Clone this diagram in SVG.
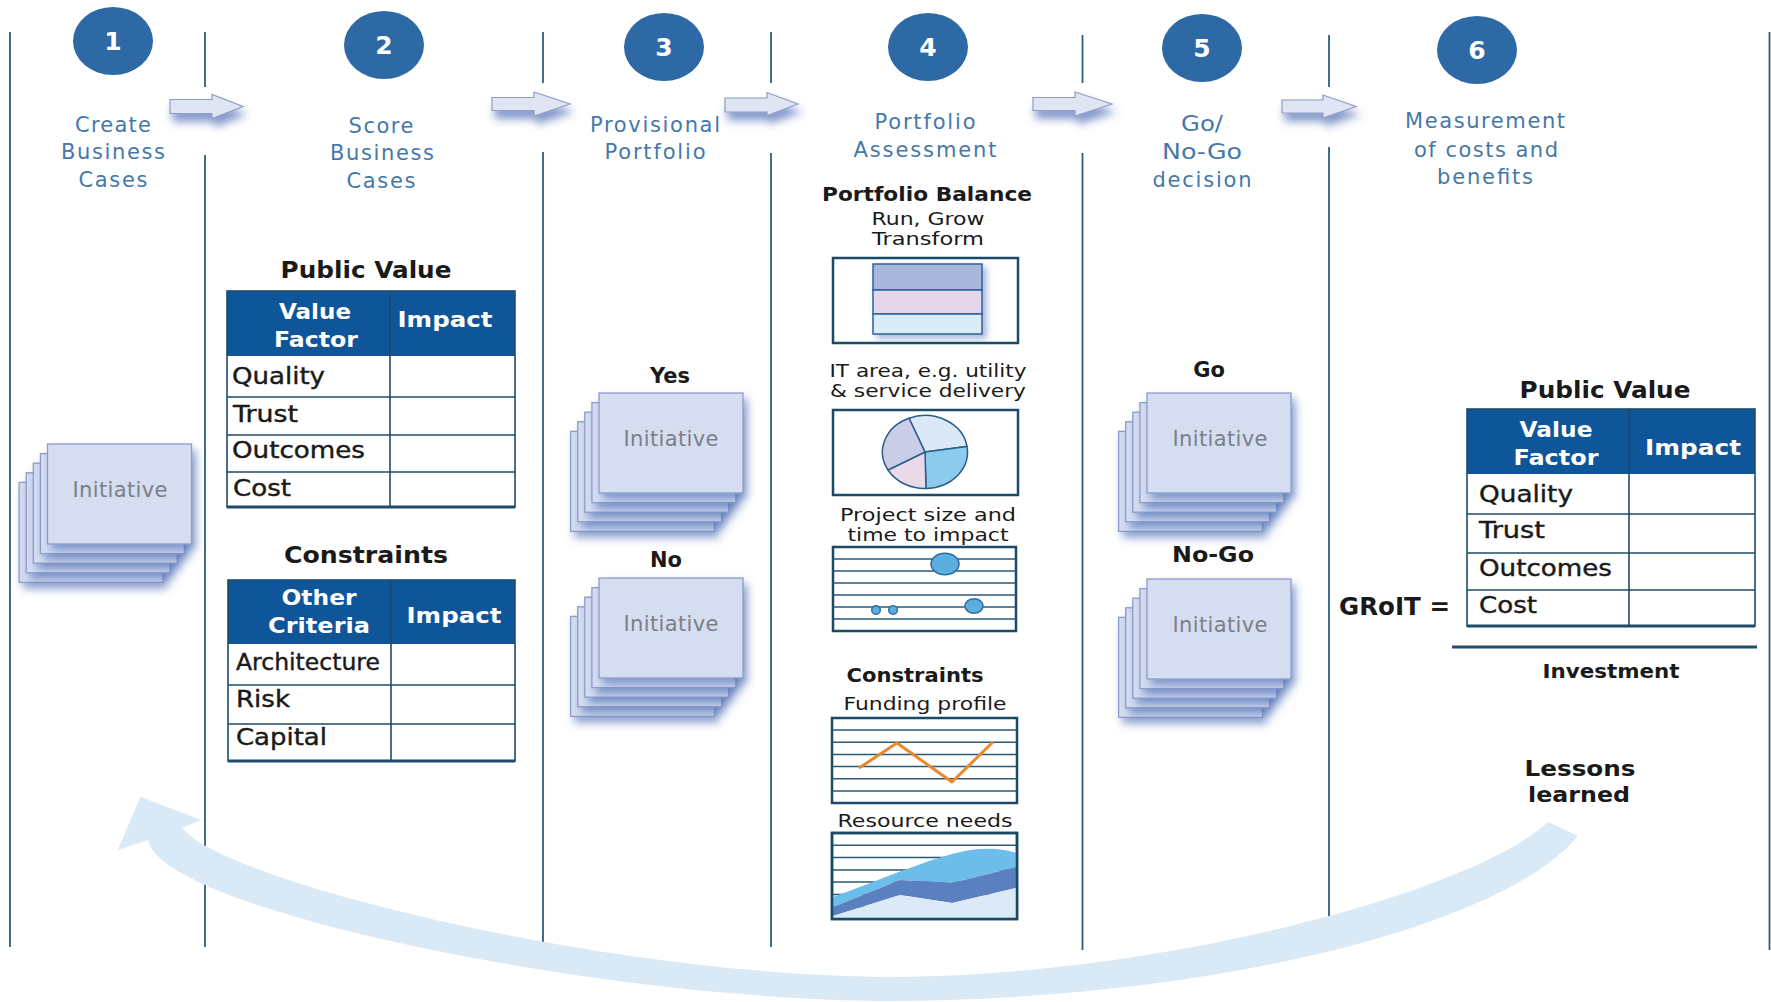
<svg xmlns="http://www.w3.org/2000/svg" width="1771" height="1002" viewBox="0 0 1771 1002">
<defs>
<style>
text{font-family:"DejaVu Sans","Liberation Sans",sans-serif}
.lbl{font-size:21px;fill:#4578a8;text-anchor:middle}
.num{font-size:25px;font-weight:bold;fill:#fff;text-anchor:middle}
.ttl{font-size:23px;font-weight:bold;fill:#1a1a1a;text-anchor:middle}
.hdr{font-size:21.5px;font-weight:bold;fill:#fff;text-anchor:middle}
.row{font-size:22.5px;fill:#1a1a1a;stroke:#1a1a1a;stroke-width:0.4}
.ini{font-size:21px;fill:#7b7f88;text-anchor:middle}
.bld{font-size:21px;font-weight:bold;fill:#1a1a1a;text-anchor:middle}
.sub{font-size:18px;fill:#1a1a1a;text-anchor:middle}
.vline{stroke:#2f5d7c;stroke-width:1.8;fill:none}
.circ{fill:#2c69a5}
.card{fill:#d5ddf0;stroke:#8d9ccb;stroke-width:1.3;filter:url(#cardShadow)}
.thead{fill:#0f5599}
.tbody{fill:#fff}
.tline{stroke:#1d4b69;stroke-width:1.6;fill:none}
.tbot{stroke:#1d4b69;stroke-width:3;fill:none}
.box{fill:#fff;stroke:#1b4a66;stroke-width:2.5}
.grid{stroke:#2a5a78;stroke-width:1.5;fill:none}
.arrow{fill:#dfe5f2;stroke:#8e9cc6;stroke-width:1.2;filter:url(#arrowShadow)}
.pie{stroke:#2a5f8a;stroke-width:1.5}
.dot{fill:#5aaee0;stroke:#2d6fa0;stroke-width:1.5}
</style>
<filter id="cardShadow" x="-20%" y="-20%" width="150%" height="160%">
<feDropShadow dx="4" dy="6" stdDeviation="4" flood-color="#3b5fae" flood-opacity="0.55"/>
</filter>
<filter id="arrowShadow" x="-30%" y="-50%" width="170%" height="250%">
<feDropShadow dx="3" dy="8" stdDeviation="4" flood-color="#3355aa" flood-opacity="0.6"/>
</filter>
<filter id="barShadow" x="-20%" y="-20%" width="150%" height="150%">
<feDropShadow dx="4" dy="4" stdDeviation="3" flood-color="#4a6fb0" flood-opacity="0.5"/>
</filter>
</defs>
<rect x="0" y="0" width="1771" height="1002" fill="#fff"/>

<g id="columns">
<line class="vline" x1="10" y1="32" x2="10" y2="947"/>
<line class="vline" x1="205" y1="32" x2="205" y2="87"/>
<line class="vline" x1="205" y1="155" x2="205" y2="947"/>
<line class="vline" x1="543" y1="32" x2="543" y2="83"/>
<line class="vline" x1="543" y1="152" x2="543" y2="944"/>
<line class="vline" x1="771" y1="32" x2="771" y2="83"/>
<line class="vline" x1="771" y1="153" x2="771" y2="947"/>
<line class="vline" x1="1082.5" y1="35" x2="1082.5" y2="83"/>
<line class="vline" x1="1082.5" y1="153" x2="1082.5" y2="950"/>
<line class="vline" x1="1329" y1="35" x2="1329" y2="87"/>
<line class="vline" x1="1329" y1="147" x2="1329" y2="950"/>
<line class="vline" x1="1769.5" y1="32" x2="1769.5" y2="950"/>
</g>

<g id="connectors">
<path class="arrow" d="M170,99.5 H212 V94.5 L243,106.5 L212,118.5 V113.5 H170 Z"/>
<path class="arrow" d="M492,97.5 H534 V92 L570,104 L534,116 V110.5 H492 Z"/>
<path class="arrow" d="M725,98 H767 V92.5 L798,104 L767,115.5 V112 H725 Z"/>
<path class="arrow" d="M1033,97.5 H1075 V92 L1112,104 L1075,116 V110.5 H1033 Z"/>
<path class="arrow" d="M1282,100 H1323 V95 L1356,106.5 L1323,118 V113 H1282 Z"/>
<path id="lessons-arrow" fill="#d9e9f6" d="M1578,836 C1500,930 1200,1000 890,1001 C600,1000 160,910 148,840 L117.7,850 L140.6,796.7 L201,820 L182.5,828 C220,880 600,975 890,977 C1150,977 1470,895 1548,822 Z"/>
</g>

<g id="step1">
<ellipse class="circ" cx="113" cy="41" rx="40" ry="34"/>
<text class="num" x="113" y="50">1</text>
<text class="lbl" x="113" y="132" textLength="76">Create</text>
<text class="lbl" x="113" y="159" textLength="104">Business</text>
<text class="lbl" x="113" y="187" textLength="69">Cases</text>
</g>
<g id="step2">
<ellipse class="circ" cx="384" cy="45" rx="40" ry="34"/>
<text class="num" x="384" y="54">2</text>
<text class="lbl" x="381" y="133" textLength="65">Score</text>
<text class="lbl" x="382" y="160" textLength="104">Business</text>
<text class="lbl" x="381" y="188" textLength="69">Cases</text>
</g>
<g id="step3">
<ellipse class="circ" cx="664" cy="47" rx="40" ry="34"/>
<text class="num" x="664" y="56">3</text>
<text class="lbl" x="655" y="132" textLength="130">Provisional</text>
<text class="lbl" x="655" y="159" textLength="101">Portfolio</text>
</g>
<g id="step4">
<ellipse class="circ" cx="928" cy="47" rx="40" ry="34"/>
<text class="num" x="928" y="56">4</text>
<text class="lbl" x="925" y="129" textLength="101">Portfolio</text>
<text class="lbl" x="925" y="157" textLength="143">Assessment</text>
</g>
<g id="step5">
<ellipse class="circ" cx="1202" cy="48" rx="40" ry="34"/>
<text class="num" x="1202" y="57">5</text>
<text class="lbl" x="1202" y="131" textLength="42" lengthAdjust="spacingAndGlyphs">Go/</text>
<text class="lbl" x="1202" y="159" textLength="80" lengthAdjust="spacingAndGlyphs">No-Go</text>
<text class="lbl" x="1202" y="187" textLength="99">decision</text>
</g>
<g id="step6">
<ellipse class="circ" cx="1477" cy="50" rx="40" ry="34"/>
<text class="num" x="1477" y="59">6</text>
<text class="lbl" x="1485" y="128" textLength="160">Measurement</text>
<text class="lbl" x="1486" y="157" textLength="144">of costs and</text>
<text class="lbl" x="1485" y="184" textLength="96">benefits</text>
</g>

<g id="initiatives-create">
<rect class="card" x="19.1" y="482.4" width="144" height="100"/>
<rect class="card" x="26.2" y="472.8" width="144" height="100"/>
<rect class="card" x="33.3" y="463.2" width="144" height="100"/>
<rect class="card" x="40.4" y="453.6" width="144" height="100"/>
<rect class="card" x="47.5" y="444" width="144" height="100"/>
<text class="ini" x="120" y="497" textLength="95">Initiative</text>
</g>

<g id="public-value-score">
<text class="ttl" x="366" y="278" textLength="171" lengthAdjust="spacingAndGlyphs">Public Value</text>
<rect class="thead" x="227" y="291" width="288" height="65"/>
<rect class="tbody" x="227" y="356" width="288" height="151"/>
<line class="tline" x1="227" y1="397" x2="515" y2="397"/>
<line class="tline" x1="227" y1="435" x2="515" y2="435"/>
<line class="tline" x1="227" y1="472" x2="515" y2="472"/>
<line class="tline" x1="390" y1="291" x2="390" y2="507"/>
<rect class="tline" x="227" y="291" width="288" height="216"/>
<line class="tbot" x1="227" y1="507" x2="515" y2="507"/>
<text class="hdr" x="315" y="319" textLength="72" lengthAdjust="spacingAndGlyphs">Value</text>
<text class="hdr" x="316" y="347" textLength="84" lengthAdjust="spacingAndGlyphs">Factor</text>
<text class="hdr" x="445" y="327" textLength="95" lengthAdjust="spacingAndGlyphs">Impact</text>
<text class="row" x="232" y="384" textLength="93" lengthAdjust="spacingAndGlyphs">Quality</text>
<text class="row" x="233" y="422" textLength="65" lengthAdjust="spacingAndGlyphs">Trust</text>
<text class="row" x="232" y="458" textLength="133" lengthAdjust="spacingAndGlyphs">Outcomes</text>
<text class="row" x="233" y="496" textLength="58" lengthAdjust="spacingAndGlyphs">Cost</text>
</g>

<g id="constraints-score">
<text class="ttl" x="366" y="563" textLength="164" lengthAdjust="spacingAndGlyphs">Constraints</text>
<rect class="thead" x="228" y="580" width="287" height="64"/>
<rect class="tbody" x="228" y="644" width="287" height="117"/>
<line class="tline" x1="228" y1="685" x2="515" y2="685"/>
<line class="tline" x1="228" y1="724" x2="515" y2="724"/>
<line class="tline" x1="391" y1="580" x2="391" y2="761"/>
<rect class="tline" x="228" y="580" width="287" height="181"/>
<line class="tbot" x1="228" y1="761" x2="515" y2="761"/>
<text class="hdr" x="319" y="605" textLength="75" lengthAdjust="spacingAndGlyphs">Other</text>
<text class="hdr" x="319" y="633" textLength="102" lengthAdjust="spacingAndGlyphs">Criteria</text>
<text class="hdr" x="454" y="623" textLength="95" lengthAdjust="spacingAndGlyphs">Impact</text>
<text class="row" x="236" y="670" textLength="144" lengthAdjust="spacingAndGlyphs">Architecture</text>
<text class="row" x="236" y="707" textLength="54" lengthAdjust="spacingAndGlyphs">Risk</text>
<text class="row" x="236" y="745" textLength="91" lengthAdjust="spacingAndGlyphs">Capital</text>
</g>

<g id="initiatives-yes">
<text class="bld" x="670" y="383">Yes</text>
<rect class="card" x="570.6" y="431.4" width="144" height="100"/>
<rect class="card" x="577.7" y="421.8" width="144" height="100"/>
<rect class="card" x="584.8" y="412.2" width="144" height="100"/>
<rect class="card" x="591.9" y="402.6" width="144" height="100"/>
<rect class="card" x="599" y="393" width="144" height="100"/>
<text class="ini" x="671" y="446" textLength="95">Initiative</text>
</g>
<g id="initiatives-no">
<text class="bld" x="666" y="567">No</text>
<rect class="card" x="570.6" y="616.4" width="144" height="100"/>
<rect class="card" x="577.7" y="606.8" width="144" height="100"/>
<rect class="card" x="584.8" y="597.2" width="144" height="100"/>
<rect class="card" x="591.9" y="587.6" width="144" height="100"/>
<rect class="card" x="599" y="578" width="144" height="100"/>
<text class="ini" x="671" y="631" textLength="95">Initiative</text>
</g>

<g id="portfolio-balance">
<text class="bld" x="927" y="201" style="font-size:20px" textLength="210" lengthAdjust="spacingAndGlyphs">Portfolio Balance</text>
<text class="sub" x="928" y="225" textLength="113" lengthAdjust="spacingAndGlyphs">Run, Grow</text>
<text class="sub" x="928" y="245" textLength="112" lengthAdjust="spacingAndGlyphs">Transform</text>
<rect class="box" x="833" y="258" width="185" height="85"/>
<g filter="url(#barShadow)">
<rect x="873" y="264" width="109" height="26" fill="#a9b7dc" stroke="#2d62a0" stroke-width="1.5"/>
<rect x="873" y="290" width="109" height="24" fill="#e3d6e8" stroke="#2d62a0" stroke-width="1.5"/>
<rect x="873" y="314" width="109" height="20" fill="#dcebf8" stroke="#2d62a0" stroke-width="1.5"/>
</g>
</g>

<g id="it-area">
<text class="sub" x="928" y="377" textLength="197" lengthAdjust="spacingAndGlyphs">IT area, e.g. utility</text>
<text class="sub" x="928" y="397" textLength="196" lengthAdjust="spacingAndGlyphs">&amp; service delivery</text>
<rect class="box" x="833" y="410" width="185" height="85"/>
<path class="pie" fill="#dbe9f7" d="M925,452 L909,418.2 A42.5,36.5 0 0 1 967,446.4 Z"/>
<path class="pie" fill="#8ccbee" d="M925,452 L967,446.4 A42.5,36.5 0 0 1 926,488.5 Z"/>
<path class="pie" fill="#ead9e9" d="M925,452 L926,488.5 A42.5,36.5 0 0 1 888,470 Z"/>
<path class="pie" fill="#cacde8" d="M925,452 L888,470 A42.5,36.5 0 0 1 909,418.2 Z"/>
</g>

<g id="project-size">
<text class="sub" x="928" y="521" textLength="176" lengthAdjust="spacingAndGlyphs">Project size and</text>
<text class="sub" x="928" y="541" textLength="161" lengthAdjust="spacingAndGlyphs">time to impact</text>
<rect class="box" x="833" y="547" width="183" height="84"/>
<path class="grid" d="M833,559 H1016 M833,571 H1016 M833,583 H1016 M833,595 H1016 M833,607 H1016 M833,619 H1016"/>
<ellipse class="dot" cx="945" cy="564" rx="14" ry="10.7"/>
<ellipse class="dot" cx="974" cy="606" rx="9" ry="7.3"/>
<circle class="dot" cx="876" cy="610" r="4.3"/>
<circle class="dot" cx="893" cy="610" r="4.3"/>
</g>

<g id="funding-profile">
<text class="bld" x="915" y="682" style="font-size:20px" textLength="137" lengthAdjust="spacingAndGlyphs">Constraints</text>
<text class="sub" x="925" y="710" textLength="163" lengthAdjust="spacingAndGlyphs">Funding profile</text>
<rect class="box" x="832" y="718" width="185" height="85"/>
<path class="grid" d="M832,730.1 H1017 M832,742.3 H1017 M832,754.4 H1017 M832,766.6 H1017 M832,778.7 H1017 M832,790.9 H1017"/>
<polyline points="859,768 897,743 952,782 993,742" fill="none" stroke="#e8892c" stroke-width="3" stroke-linejoin="round"/>
</g>

<g id="resource-needs">
<text class="sub" x="925" y="827" textLength="175" lengthAdjust="spacingAndGlyphs">Resource needs</text>
<rect class="box" x="832" y="833" width="185" height="86"/>
<path class="grid" d="M832,845.3 H1017 M832,857.6 H1017 M832,869.9 H1017 M832,882.1 H1017 M832,894.4 H1017 M832,906.7 H1017"/>
<path fill="#6cbde9" d="M833,897 C880,880 930,858 965,851 C985,847 1005,849 1016,853 L1016,867 L952,883 L900,880 L833,907 Z"/>
<path fill="#5a80bf" d="M833,907 L900,880 L952,883 L1016,867 L1016,888 L952,903 L900,895 L833,916 Z"/>
<path fill="#dce9f6" d="M833,916 L900,895 L952,903 L1016,888 L1016,917.8 L833,917.8 Z"/>
<rect x="832" y="833" width="185" height="86" fill="none" stroke="#1b4a66" stroke-width="2.5"/>
</g>

<g id="initiatives-go">
<text class="bld" x="1209" y="377">Go</text>
<rect class="card" x="1118.6" y="431.4" width="144" height="100"/>
<rect class="card" x="1125.7" y="421.8" width="144" height="100"/>
<rect class="card" x="1132.8" y="412.2" width="144" height="100"/>
<rect class="card" x="1139.9" y="402.6" width="144" height="100"/>
<rect class="card" x="1147" y="393" width="144" height="100"/>
<text class="ini" x="1220" y="446" textLength="95">Initiative</text>
</g>
<g id="initiatives-nogo">
<text class="bld" x="1213" y="562" textLength="82" lengthAdjust="spacingAndGlyphs">No-Go</text>
<rect class="card" x="1118.6" y="617.4" width="144" height="100"/>
<rect class="card" x="1125.7" y="607.8" width="144" height="100"/>
<rect class="card" x="1132.8" y="598.2" width="144" height="100"/>
<rect class="card" x="1139.9" y="588.6" width="144" height="100"/>
<rect class="card" x="1147" y="579" width="144" height="100"/>
<text class="ini" x="1220" y="632" textLength="95">Initiative</text>
</g>

<g id="groit">
<text class="ttl" x="1605" y="398" textLength="171" lengthAdjust="spacingAndGlyphs">Public Value</text>
<rect class="thead" x="1467" y="409" width="288" height="65"/>
<rect class="tbody" x="1467" y="474" width="288" height="152"/>
<line class="tline" x1="1467" y1="514" x2="1755" y2="514"/>
<line class="tline" x1="1467" y1="553" x2="1755" y2="553"/>
<line class="tline" x1="1467" y1="590" x2="1755" y2="590"/>
<line class="tline" x1="1629" y1="409" x2="1629" y2="626"/>
<rect class="tline" x="1467" y="409" width="288" height="217"/>
<line class="tbot" x1="1467" y1="626" x2="1755" y2="626"/>
<text class="hdr" x="1556" y="437" textLength="73" lengthAdjust="spacingAndGlyphs">Value</text>
<text class="hdr" x="1556" y="465" textLength="85" lengthAdjust="spacingAndGlyphs">Factor</text>
<text class="hdr" x="1693" y="455" textLength="96" lengthAdjust="spacingAndGlyphs">Impact</text>
<text class="row" x="1479" y="502" textLength="94" lengthAdjust="spacingAndGlyphs">Quality</text>
<text class="row" x="1479" y="538" textLength="66" lengthAdjust="spacingAndGlyphs">Trust</text>
<text class="row" x="1479" y="576" textLength="133" lengthAdjust="spacingAndGlyphs">Outcomes</text>
<text class="row" x="1479" y="613" textLength="58" lengthAdjust="spacingAndGlyphs">Cost</text>
<text x="1339" y="615" style="font-size:24px;font-weight:bold;fill:#1a1a1a" textLength="111" lengthAdjust="spacingAndGlyphs">GRoIT =</text>
<line x1="1452" y1="647" x2="1757" y2="647" stroke="#1f4e6b" stroke-width="3"/>
<text class="bld" x="1611" y="678" style="font-size:20px" textLength="137" lengthAdjust="spacingAndGlyphs">Investment</text>
</g>

<g id="lessons-learned">
<text class="bld" x="1580" y="776" style="font-size:22px" textLength="111" lengthAdjust="spacingAndGlyphs">Lessons</text>
<text class="bld" x="1579" y="802" style="font-size:22px" textLength="102" lengthAdjust="spacingAndGlyphs">learned</text>
</g>
</svg>
